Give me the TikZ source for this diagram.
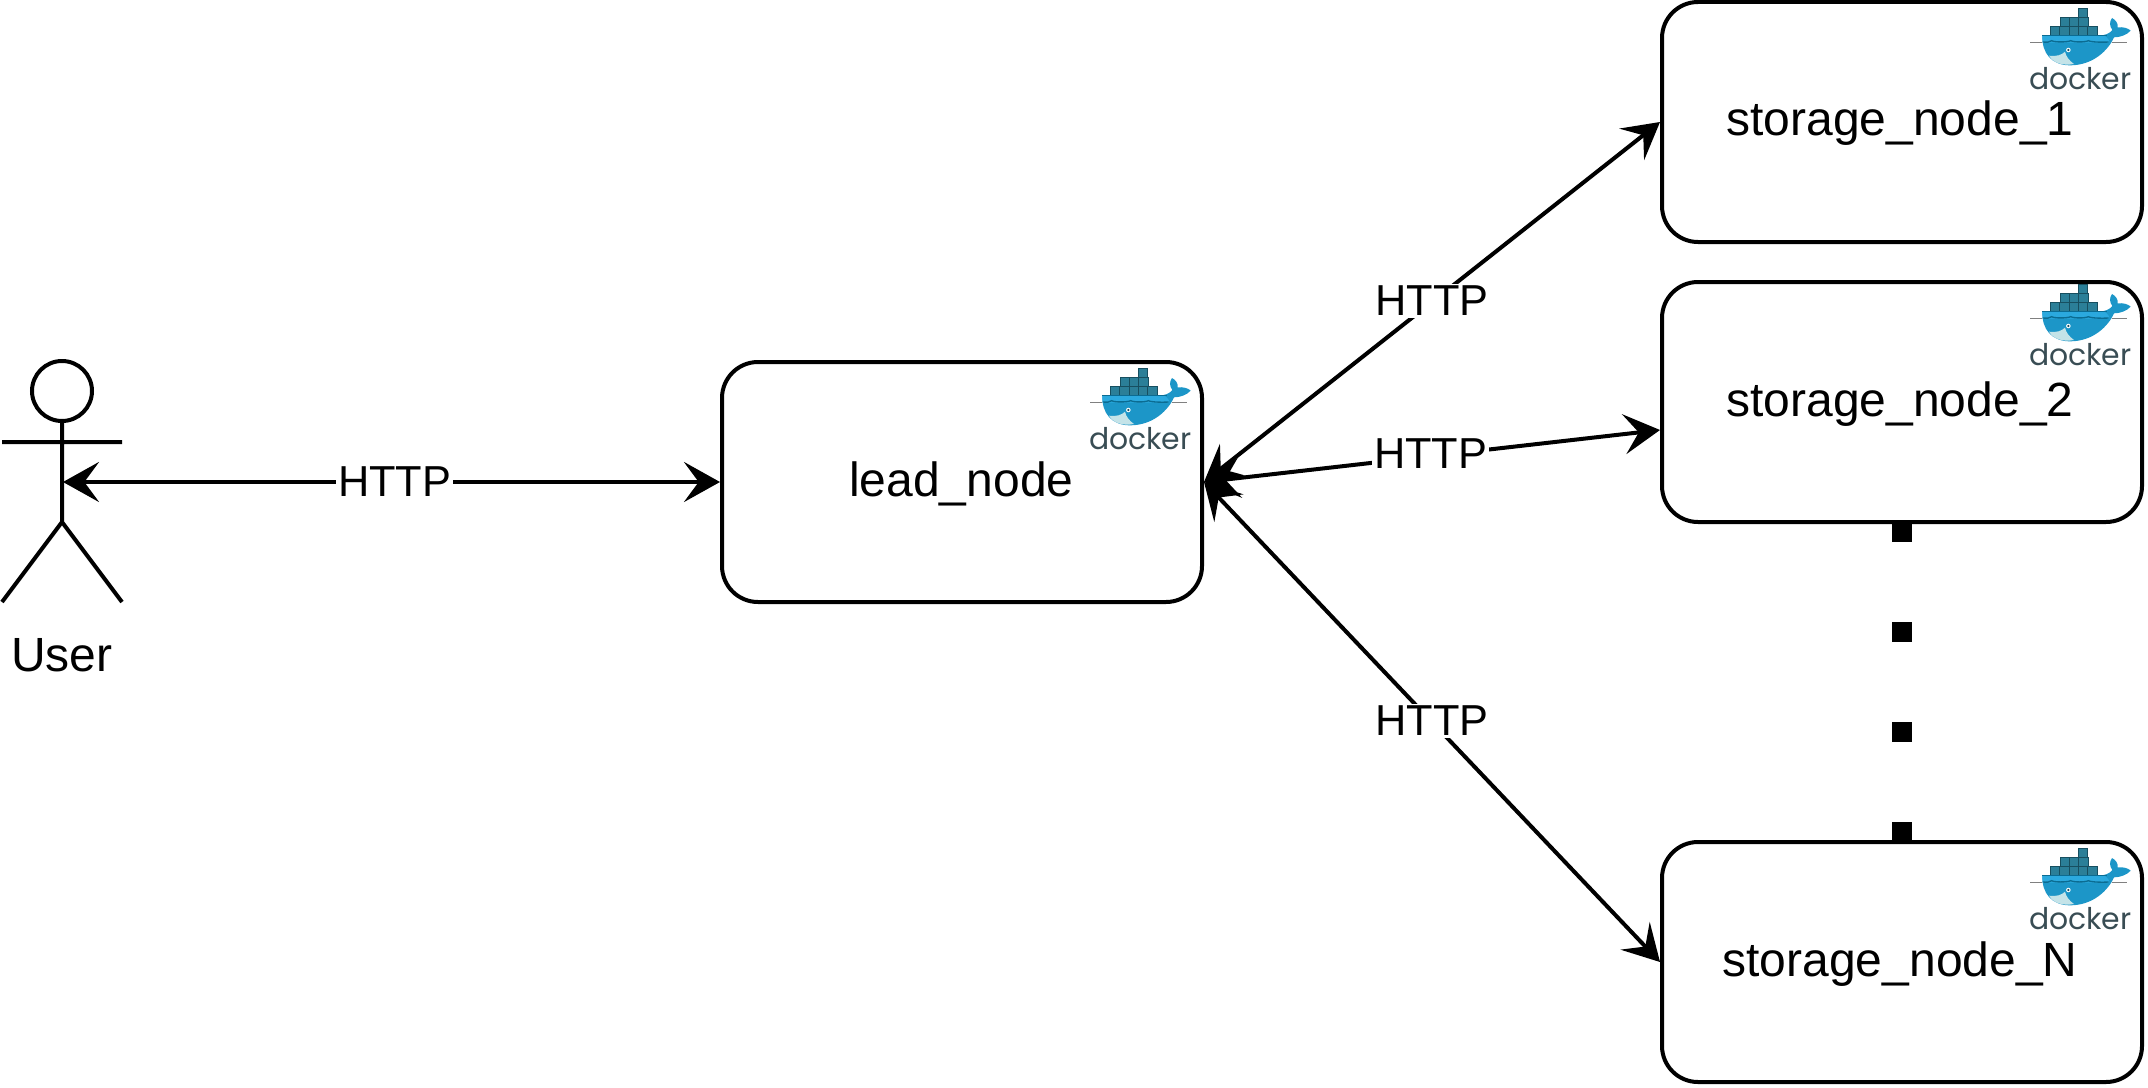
\documentclass[tikz,border=0pt]{standalone}
\usepackage{fontspec}
\setmainfont{Liberation Sans}
\newfontfamily\dockerfont{Poppins}
\usetikzlibrary{arrows.meta}
\definecolor{whaleblue}{HTML}{1C96C8}
\definecolor{whaleband}{HTML}{2BA9DE}
\definecolor{whaledark}{HTML}{0B6C92}
\definecolor{boxfill}{HTML}{2B7F98}
\definecolor{boxline}{HTML}{174F60}
\definecolor{bellyc}{HTML}{C4E3E8}
\definecolor{dockertext}{HTML}{394D54}
\tikzset{
  box/.style={draw=black,line width=3pt,rounded corners=27pt,minimum width=360pt,minimum height=180pt,inner sep=0pt,fill=none,font=\fontsize{36}{40}\selectfont},
  stick/.style={draw=black,line width=3pt},
  conn/.style={draw=black,line width=3pt,{Stealth[length=27pt,width=30pt,inset=11pt]}-{Stealth[length=27pt,width=30pt,inset=11pt]}},
  httplabel/.style={fill=white,inner sep=1.5pt,font=\fontsize{32.5}{36}\selectfont},
  dots/.style={draw=black,line width=15pt,dash pattern=on 15pt off 60pt,dash phase=1.5pt},
  container/.style={fill=boxfill,draw=boxline,line width=.5pt},
  dockerlogo/.pic={
    \begin{scope}[x=.25pt,y=-.25pt]
      % water line
      \draw[gray,line width=.4pt] (60,128) -- (97,128) (305,128) -- (352,128);
      % containers
      \foreach \bx/\by in {205/25,150/52,178/52,206/52,121/79,149/79,177/79,205/79,233/79}
        {\path[container] (\bx,\by) rectangle ++(28,27);}
      % whale body
      \fill[whaleblue] (97,106) -- (262,106) .. controls (285,108) and (299,100) .. (307,90)
        .. controls (298,78) and (298,65) .. (306,54) .. controls (318,60) and (325,72) .. (323,82)
        .. controls (340,80) and (355,85) .. (362,92) .. controls (350,105) and (330,112) .. (312,112)
        .. controls (295,150) and (250,196) .. (180,196) .. controls (125,196) and (95,160) .. (97,106) -- cycle;
      % top band
      \fill[whaleband] (97,108) -- (285,108) .. controls (290,112) and (300,120) .. (297,128) -- (98,128) -- cycle;
      \draw[whaledark,line width=.8pt] (97,106) -- (290,106);
      \draw[whaledark,line width=1pt] (98,126) .. controls (112,127) and (118,127) .. (125,122)
        .. controls (132,127) and (172,127) .. (182,122) .. controls (192,127) and (225,127) .. (235,122)
        .. controls (245,127) and (280,127) .. (296,126);
      % belly
      \fill[bellyc] (117,167) .. controls (140,170) and (155,165) .. (165,155)
        .. controls (168,170) and (178,182) .. (192,192) .. controls (160,198) and (130,190) .. (117,167) -- cycle;
      % eye
      \fill[white] (175,150) circle[radius=1.7pt];
      \fill[boxline] (175,150) circle[radius=.9pt];
      % wordmark
      \node[anchor=base,inner sep=0pt,text=dockertext,font=\dockerfont\fontsize{22.4}{24}\selectfont] (wordmark) at (211,269) {docker};
    \end{scope}
  }
}
\begin{document}
\begin{tikzpicture}[x=.75pt,y=-.75pt]
  \useasboundingbox (0,0) rectangle (2148,1088);
  % boxes
  \node[box,text height=28pt,text depth=7pt] (lead) at (962,482) {\kern-1pt lead\_node};
  \node[box,text height=27pt,text depth=7pt] (s1) at (1902,122) {\kern-3pt storage\_node\_1};
  \node[box,text height=28pt,text depth=7pt] (s2) at (1902,402) {\kern-3pt storage\_node\_2};
  \node[box,text height=28pt,text depth=7pt] (sn) at (1902,962) {\kern-3pt storage\_node\_N};
  % actor
  \draw[stick] (62,391) circle[radius=22.5pt];
  \draw[stick] (62,422) -- (62,522) (2,442) -- (122,442) (2,602) -- (62,522) -- (122,602);
  \coordinate (actor) at (63,482);
  \node[anchor=base,inner sep=0pt,font=\fontsize{36}{40}\selectfont] (user) at (62,671) {User};
  % dots
  \path[dots] (s2.south) -- (sn.north);
  % connectors
  \path[conn] (actor) -- node[httplabel,pos=.505] (l0) {HTTP} (lead.west);
  \path[conn] (lead.east) -- node[httplabel,pos=.5,yshift=1pt] (l1) {HTTP} (s1.west);
  \path[conn] (lead.east) -- node[httplabel,pos=.5,yshift=2pt,xshift=-1pt] (l2) {HTTP} ([yshift=-21pt]s2.west);
  \path[conn] (lead.east) -- node[httplabel,pos=.5,yshift=1pt] (l3) {HTTP} (sn.west);
  % logos
  \pic at (1070,360) {dockerlogo};
  \pic at (2010,0) {dockerlogo};
  \pic at (2010,276) {dockerlogo};
  \pic at (2010,840) {dockerlogo};
\end{tikzpicture}
\end{document}
